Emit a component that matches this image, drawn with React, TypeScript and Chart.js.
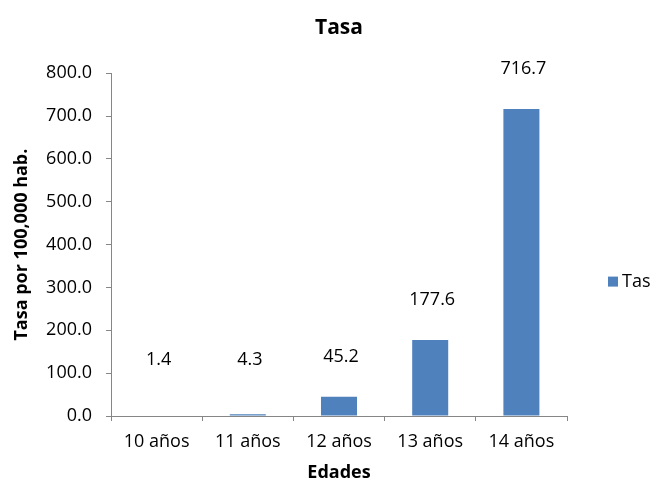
import React, { useEffect, useRef } from "react";
import { Chart, registerables } from "chart.js";

Chart.register(...registerables);

const categories = ["10 años", "11 años", "12 años", "13 años", "14 años"];
const tasaValues = [1.4, 4.3, 45.2, 177.6, 716.7];
const seriesName = "Tasa";
const chartTitle = "Tasa";
const yAxisTitle = "Tasa por 100,000 hab.";
const xAxisTitle = "Edades";

const FONT = "'Open Sans', 'Liberation Sans', sans-serif";
const BAR_COLOR = "#4F81BD";
const AXIS_COLOR = "#868686";

const dataLabelPlugin = {
  id: "dataLabels",
  afterDatasetsDraw(chart: any) {
    const { ctx } = chart;
    const meta = chart.getDatasetMeta(0);
    const yScale = chart.scales.y;
    const minY = yScale.getPixelForValue(130);
    ctx.save();
    ctx.font = `18px ${FONT}`;
    ctx.fillStyle = "#000";
    ctx.textAlign = "center";
    ctx.textBaseline = "middle";
    meta.data.forEach((bar: any, i: number) => {
      const v = tasaValues[i];
      const y = Math.min(bar.y - 40, minY);
      ctx.fillText(v.toFixed(1), bar.x + 2, y);
    });
    ctx.restore();
  },
};

const legendPlugin = {
  id: "customLegend",
  afterDraw(chart: any) {
    const { ctx, chartArea } = chart;
    const cy = (chartArea.top + chartArea.bottom) / 2 + 37;
    ctx.save();
    ctx.fillStyle = BAR_COLOR;
    ctx.fillRect(chartArea.right + 41, cy - 5, 10, 10);
    ctx.fillStyle = "#000";
    ctx.font = `18px ${FONT}`;
    ctx.textAlign = "left";
    ctx.textBaseline = "middle";
    ctx.fillText(seriesName, chartArea.right + 55, cy);
    ctx.restore();
  },
};

export default function App() {
  const canvasRef = useRef<HTMLCanvasElement | null>(null);

  useEffect(() => {
    document.body.style.margin = "0";
    const canvas = canvasRef.current;
    if (!canvas) return;
    const chart = new Chart(canvas, {
      type: "bar",
      data: {
        labels: categories,
        datasets: [
          {
            label: seriesName,
            data: tasaValues,
            backgroundColor: BAR_COLOR,
            borderWidth: 0,
            barPercentage: 0.395,
            categoryPercentage: 1,
          },
        ],
      },
      options: {
        responsive: false,
        animation: false,
        layout: { padding: { left: 0, right: 83, top: 0, bottom: 0 } },
        plugins: {
          legend: { display: false },
          tooltip: { enabled: false },
          title: {
            display: true,
            text: chartTitle,
            fullSize: false,
            color: "#000",
            font: { family: FONT, size: 21, weight: "bold" },
            padding: { top: 15, bottom: 33 },
          },
        },
        scales: {
          x: {
            afterFit(scale: any) {
              scale.height = 68;
            },
            grid: {
              display: true,
              drawOnChartArea: false,
              drawTicks: true,
              tickLength: 5,
              color: AXIS_COLOR,
              offset: true,
            },
            border: { display: true, color: AXIS_COLOR },
            ticks: {
              color: "#000",
              font: { family: FONT, size: 18 },
              padding: 10,
              maxRotation: 0,
            },
            title: {
              display: true,
              text: xAxisTitle,
              color: "#000",
              font: { family: FONT, size: 18, weight: "bold" },
              padding: { top: 0, bottom: 0 },
            },
          },
          y: {
            min: 0,
            max: 800,
            afterFit(scale: any) {
              scale.width = 111;
            },
            grid: {
              display: true,
              drawOnChartArea: false,
              drawTicks: true,
              tickLength: 5,
              color: AXIS_COLOR,
            },
            border: { display: true, color: AXIS_COLOR },
            ticks: {
              stepSize: 100,
              color: "#000",
              font: { family: FONT, size: 18 },
              padding: 14,
              callback: (v: any) => Number(v).toFixed(1),
            },
            title: {
              display: true,
              text: yAxisTitle,
              color: "#000",
              font: { family: FONT, size: 18, weight: "bold" },
              padding: { top: 11, bottom: 0 },
            },
          },
        },
      },
      plugins: [dataLabelPlugin, legendPlugin],
    });
    return () => chart.destroy();
  }, []);

  return (
    <div style={{ width: 650, height: 484, background: "#fff" }}>
      <canvas ref={canvasRef} width={650} height={484} />
    </div>
  );
}
